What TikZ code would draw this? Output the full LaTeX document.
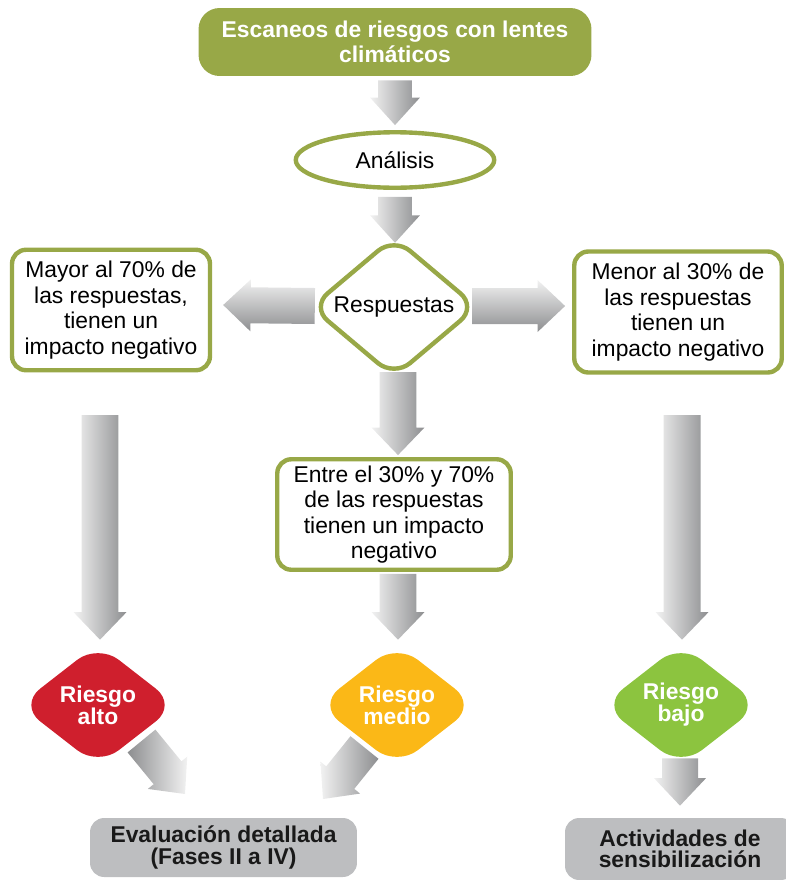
\documentclass[tikz,border=0pt]{standalone}
\usepackage{fontspec}
\setmainfont{Liberation Sans}
\usetikzlibrary{calc,shapes.geometric}

\definecolor{olivo}{HTML}{98A847}
\definecolor{rojo}{HTML}{CF1F2D}
\definecolor{ambar}{HTML}{FBB817}
\definecolor{verde}{HTML}{8CC43F}
\definecolor{grisfin}{HTML}{BDBEC0}
\definecolor{flclara}{HTML}{F2F2F2}
\definecolor{floscura}{HTML}{8D8E90}

\tikzset{
  texto/.style={font=\fontsize{13}{14.5}\selectfont, align=center},
  cabecera/.style={texto, font=\fontsize{13}{14.5}\selectfont\bfseries, fill=olivo, text=white,
    rounded corners=12pt, minimum width=7.86cm, minimum height=1.36cm},
  caja/.style={texto, draw=olivo, line width=2.5pt, fill=white, rounded corners=8pt, inner sep=2pt},
  ovalo/.style={texto, ellipse, draw=olivo, line width=2.5pt, minimum width=3.97cm, minimum height=1.11cm},
  rombo/.style={texto, diamond, draw=olivo, line width=2.5pt, fill=white, rounded corners=12pt,
    inner sep=0pt, minimum width=3.34cm, minimum height=2.82cm},
  riesgo/.style={diamond, font=\fontsize{13}{12.5}\selectfont\bfseries, align=center, text=white,
    rounded corners=15pt, inner sep=0pt, minimum width=3.16cm, minimum height=2.46cm},
  destino/.style={font=\fontsize{13}{12}\selectfont\bfseries, align=center, fill=grisfin,
    text=black!90, rounded corners=8pt},
  vertical/.style={left color=flclara, right color=floscura},
  horizontal/.style={top color=flclara, bottom color=floscura},
}

% block arrow: [shading]{start}{tip}{half shaft}{half head}
\newcommand{\flecha}[5][vertical]{%
  \coordinate (fb) at ($(#3)!0.55cm!(#2)$);
  \shade[#1] ($(#2)!#4!90:(#3)$) -- ($(fb)!#4!90:(#3)$) -- ($(fb)!#5!90:(#3)$) -- (#3)
    -- ($(fb)!#5!-90:(#3)$) -- ($(fb)!#4!-90:(#3)$) -- ($(#2)!#4!-90:(#3)$) -- cycle;
}

\begin{document}
\begin{tikzpicture}[x=0.02cm,y=-0.02cm]
  \clip (0,0) rectangle (786,880);

  \node[cabecera] (escaneo) at (395,42) {Escaneos de riesgos con lentes\\climáticos};
  \node[ovalo] (analisis) at (395,160) {Análisis};
  \node[rombo] (respuestas) at (394,307) {Respuestas};

  \node[caja, minimum width=3.96cm, minimum height=2.41cm] (mayor) at (111,310)
    {Mayor al 70\% de\\las respuestas,\\tienen un\\impacto negativo};
  \node[caja, minimum width=4.15cm, minimum height=2.42cm] (menor) at (678,312)
    {Menor al 30\% de\\las respuestas\\tienen un\\impacto negativo};
  \node[caja, minimum width=4.67cm, minimum height=2.21cm] (entre) at (394,514.5)
    {Entre el 30\% y 70\%\\de las respuestas\\tienen un impacto\\negativo};

  \node[riesgo, fill=rojo] (alto) at (98,705) {Riesgo\\alto};
  \node[riesgo, fill=ambar] (medio) at (397,705) {Riesgo\\medio};
  \node[riesgo, fill=verde] (bajo) at (681,705) {Riesgo\\bajo};

  \node[destino, minimum width=5.34cm, minimum height=1.18cm] (evaluacion) at (223.5,847.5)
    {Evaluación detallada\\(Fases II a IV)};
  \node[destino, minimum width=4.6cm, minimum height=1.24cm] (actividades) at (680,849)
    {Actividades de\\sensibilización};

  % arrows
  \coordinate (f1a) at ([yshift=-0.08cm]escaneo.south);
  \coordinate (f1b) at ([yshift=0.1cm]analisis.north);
  \flecha{f1a}{f1b}{0.34cm}{0.5cm}
  \coordinate (f2a) at ([yshift=-0.14cm]analisis.south);
  \coordinate (f2b) at ([xshift=0.02cm,yshift=-0.17cm]respuestas.north);
  \flecha{f2a}{f2b}{0.34cm}{0.5cm}

  \coordinate (f3a) at ([xshift=0.13cm,yshift=0.02cm]respuestas.west);
  \coordinate (f3b) at ([xshift=0.22cm,yshift=0.02cm]mayor.east |- f3a);
  \flecha[horizontal]{f3a}{f3b}{0.36cm}{0.52cm}
  \coordinate (f4a) at ([xshift=-0.15cm,yshift=0.02cm]respuestas.east);
  \coordinate (f4b) at ([xshift=-0.14cm]menor.west |- f4a);
  \flecha[horizontal]{f4a}{f4b}{0.36cm}{0.52cm}

  \coordinate (f5a) at ([xshift=0.08cm,yshift=0.15cm]respuestas.south);
  \coordinate (f5b) at ([xshift=0.08cm,yshift=0.04cm]entre.north);
  \flecha{f5a}{f5b}{0.37cm}{0.53cm}
  \coordinate (f6a) at ([xshift=0.08cm,yshift=-0.04cm]entre.south);
  \coordinate (f6b) at ([xshift=0.02cm,yshift=0.07cm]medio.north);
  \flecha{f6a}{f6b}{0.37cm}{0.53cm}

  \coordinate (f7a) at (100,415);
  \coordinate (f7b) at ([xshift=0.04cm,yshift=0.07cm]alto.north);
  \flecha{f7a}{f7b}{0.37cm}{0.53cm}
  \coordinate (f8a) at (682,415);
  \coordinate (f8b) at ([xshift=0.02cm,yshift=0.07cm]bajo.north);
  \flecha{f8a}{f8b}{0.37cm}{0.53cm}

  \coordinate (f9a) at (141.5,741);
  \coordinate (f9b) at (185,794);
  \flecha[left color=floscura, right color=flclara]{f9a}{f9b}{0.36cm}{0.51cm}
  \coordinate (f10a) at (364.5,747.5);
  \coordinate (f10b) at (323,799);
  \flecha{f10a}{f10b}{0.36cm}{0.51cm}
  \coordinate (f11a) at ([xshift=-0.02cm,yshift=0.17cm]bajo.south);
  \coordinate (f11b) at ([yshift=0.24cm]actividades.north);
  \flecha{f11a}{f11b}{0.36cm}{0.52cm}
\end{tikzpicture}
\end{document}
